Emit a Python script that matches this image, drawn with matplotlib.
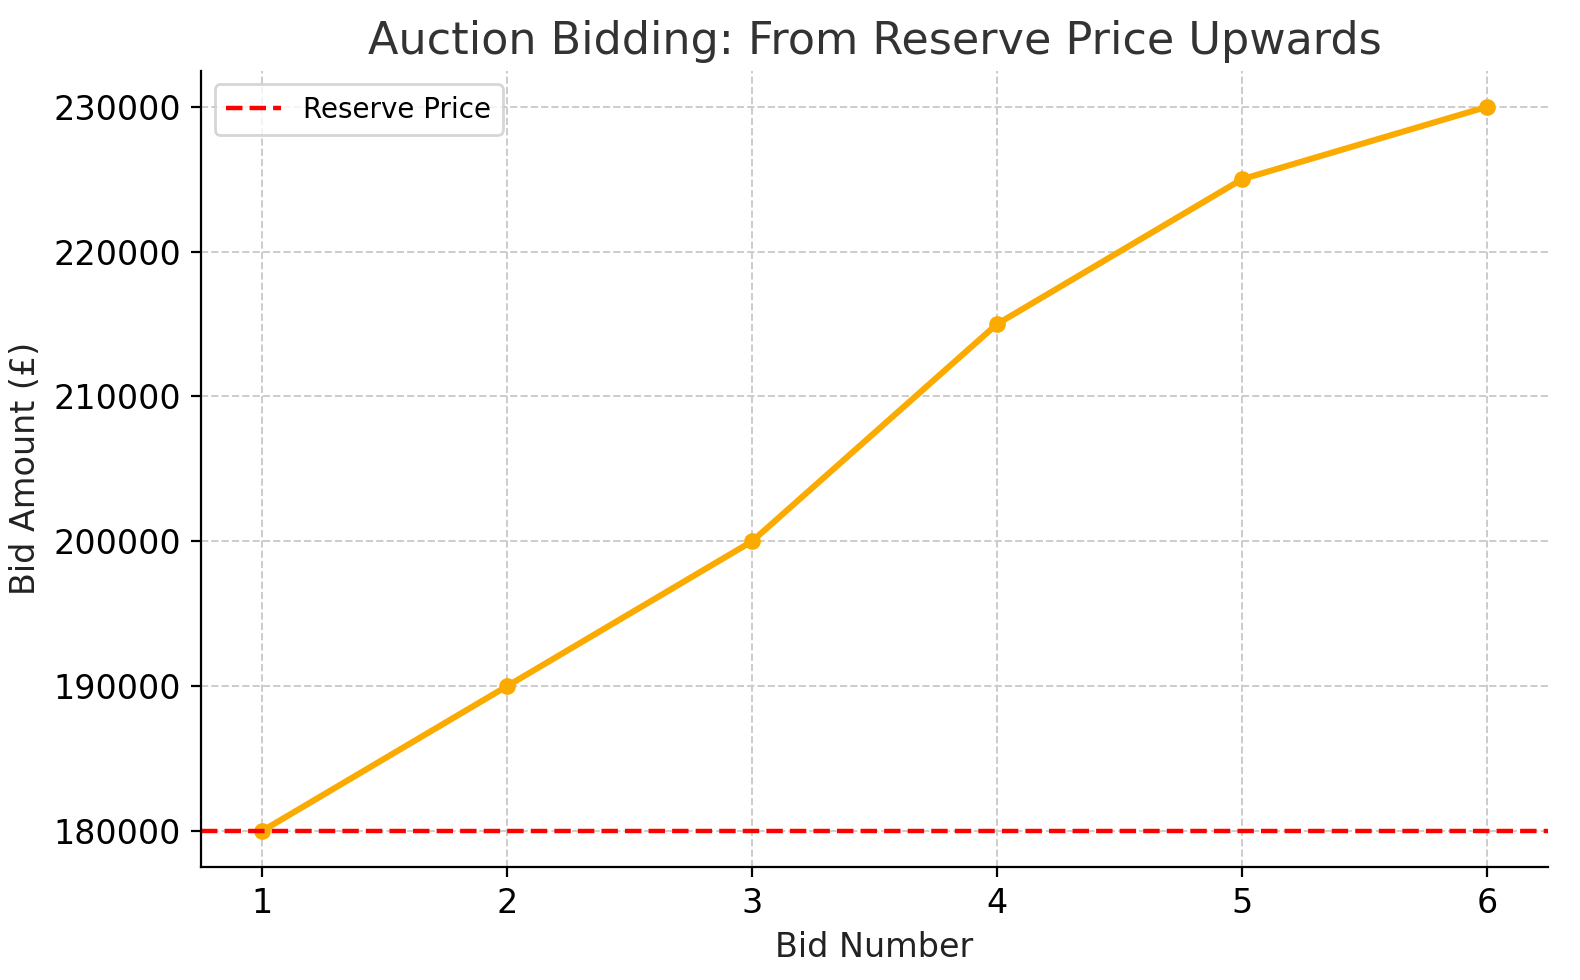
import matplotlib
matplotlib.use("Agg")
import matplotlib.pyplot as plt

bids = [1, 2, 3, 4, 5, 6]
amounts = [180000, 190000, 200000, 215000, 225000, 230000]
reserve_price = 180000

fig, ax = plt.subplots(figsize=(7.9, 4.9), dpi=200)
ax.plot(bids, amounts, color="#FBAA00", linewidth=2.2, marker="o", markersize=5)
ax.axhline(reserve_price, color="red", linestyle="--", linewidth=1.6, label="Reserve Price")
ax.set_title("Auction Bidding: From Reserve Price Upwards", fontsize=16, color="#333333")
ax.set_xlabel("Bid Number", fontsize=12, color="#222222")
ax.set_ylabel("Bid Amount (£)", fontsize=12, color="#222222")
ax.tick_params(labelsize=12)
ax.grid(True, linestyle="--", color="#cccccc", linewidth=0.7)
ax.spines["top"].set_visible(False)
ax.spines["right"].set_visible(False)
ax.legend(loc="upper left", fontsize=10)
fig.subplots_adjust(left=0.127, right=0.98, top=0.928, bottom=0.115)
fig.savefig("out.png", dpi=200)
